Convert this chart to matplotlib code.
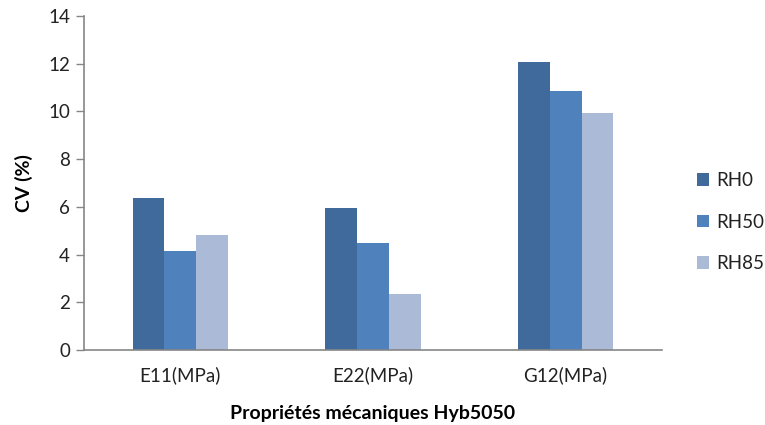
import matplotlib
matplotlib.use("Agg")
import matplotlib.pyplot as plt
import numpy as np

plt.rcParams['font.family'] = ['Lato', 'DejaVu Sans']

categories = ["E11(MPa)", "E22(MPa)", "G12(MPa)"]
series_names = ["RH0", "RH50", "RH85"]
rh0 = [6.36, 5.96, 12.08]
rh50 = [4.15, 4.50, 10.85]
rh85 = [4.81, 2.33, 9.95]
colors = ["#406A9B", "#4F81BD", "#AABAD7"]

fig = plt.figure(figsize=(7.65, 4.25), dpi=100)
ax = fig.add_axes([84/765, 1-350/425, (662-84)/765, (350-16)/425])

x = np.arange(len(categories))
w = 0.165
for i, (vals, name, c) in enumerate(zip([rh0, rh50, rh85], series_names, colors)):
    ax.bar(x + (i-1)*w, vals, width=w, color=c, label=name, zorder=2)

ax.set_xlim(-0.5, 2.5)
ax.set_ylim(0, 14)
ax.set_yticks(np.arange(0, 15, 2))
ax.set_xticks(x)
ax.set_xticklabels(categories)

axis_color = "#868686"
for s in ["top", "right"]:
    ax.spines[s].set_visible(False)
for s in ["left", "bottom"]:
    ax.spines[s].set_color(axis_color)
    ax.spines[s].set_linewidth(1.2)
ax.tick_params(axis='y', colors=axis_color, length=6, width=1, labelsize=13.5, labelcolor="#222222", pad=4)
ax.tick_params(axis='x', length=0, labelsize=13.5, labelcolor="#222222", pad=12)

ax.set_ylabel("CV (%)", fontsize=14, fontweight='bold', labelpad=11)
ax.set_xlabel("Propriétés mécaniques Hyb5050", fontsize=14, fontweight='bold', labelpad=15)

leg = ax.legend(loc='center left', bbox_to_anchor=((697 - 84)/578, 0.383), frameon=False,
                fontsize=13.5, handlelength=0.65, handleheight=0.65, labelspacing=1.3,
                handletextpad=0.4, borderaxespad=0, borderpad=0)
for t in leg.get_texts():
    t.set_color("#222222")

fig.savefig("out.png", dpi=100)
